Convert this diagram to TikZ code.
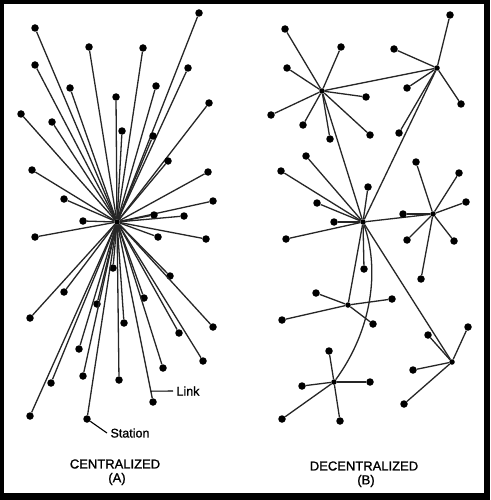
\documentclass[tikz,border=0pt]{standalone}
\usepackage{fontspec}
\setmainfont{Liberation Sans}
\newfontfamily\lettering[FakeBold=1.2]{Liberation Sans}
\usetikzlibrary{calc}

\tikzset{
    station/.style={circle, fill=black, inner sep=0pt, minimum size=7.5pt},
    hub/.style={circle, fill=black, inner sep=0pt, minimum size=5.5pt},
    link/.style={black!85, line width=1.3pt},
    leader/.style={black, line width=1.1pt},
    title/.style={font=\lettering\fontsize{13}{15}\selectfont},
    tag/.style={font=\lettering\fontsize{12.5}{14}\selectfont}
}

\begin{document}
\begin{tikzpicture}[x=1pt, y=-1pt]
        \useasboundingbox (0,0) rectangle (490,500);
        \fill[black] (0,0) rectangle (490,500);
        \fill[white] (4,4) rectangle (484,493);

        % centralized
        \node[hub] (hubA) at (117,222) {};
        \foreach \x/\y [count=\i] in {35/28, 89/47, 143/48, 199/13, 188/68, 35/65, 70/88,
                116/97, 156/86, 209/103, 21/114, 52/122, 122/131, 153/136, 168/161,
                32/170, 208/172, 64/199, 213/201, 83/221, 154/215, 184/216, 35/237,
                158/237, 206/239, 113/268, 170/276, 64/292, 97/304, 144/298, 30/318,
                124/323, 213/327, 179/333, 79/349, 203/361, 163/368, 83/376, 119/380,
                51/383, 153/402, 30/416, 87/419} {
            \node[station] (a\i) at (\x,\y) {};
            \draw[link] (hubA) -- (a\i);
        }

        \node[tag, anchor=west] (linklbl) at (173,391) {Link};
        \coordinate (linkpt) at ($(hubA)!0.94!(a41)$);
        \draw[leader] (linkpt) -- (linklbl.west);
        \node[tag, anchor=west] (stationlbl) at (107,433) {Station};
        \draw[leader] (a43) -- (stationlbl.west);

        \node[title] (titleA) at (115,464) {CENTRALIZED};
        \node[title] (subA) at (117,479) {(A)};

        % decentralized
        \node[hub] (h1) at (322,91) {};
        \node[hub] (h2) at (437,68) {};
        \node[hub] (h3) at (363,222) {};
        \node[hub] (h4) at (433,214) {};
        \node[hub] (h5) at (348,305) {};
        \node[hub] (h6) at (334,382) {};
        \node[hub] (h7) at (452,362) {};

        \draw[link] (h1) -- (h2);
        \draw[link] (h1) -- (h3);
        \draw[link] (h2) -- (h3);
        \draw[link] (h3) -- (h4);
        \draw[link] (h3) -- (h5);
        \draw[link] (h3) -- (h7);
        \draw[link] (h3) .. controls (380,270) and (372,330) .. (h6);

        \foreach \h/\x/\y [count=\i] in {h1/285/29, h1/341/47, h1/287/68, h1/366/97,
                h1/271/115, h1/303/125, h1/330/139, h1/370/135,
                h2/450/15, h2/394/49, h2/407/88, h2/461/104, h2/399/133,
                h3/306/156, h3/281/171, h3/368/187, h3/317/203, h3/334/222, h3/286/239, h3/364/269,
                h4/416/162, h4/459/173, h4/466/202, h4/403/214, h4/407/240, h4/454/241, h4/421/279,
                h5/316/293, h5/392/299, h5/282/320, h5/373/324,
                h6/329/351, h6/302/386, h6/370/382, h6/282/419, h6/340/421,
                h7/428/335, h7/468/327, h7/413/370, h7/404/404} {
            \node[station] (b\i) at (\x,\y) {};
            \draw[link] (\h) -- (b\i);
        }

        \node[title] (titleB) at (364,466) {DECENTRALIZED};
        \node[title] (subB) at (366,481) {(B)};
    \end{tikzpicture}
\end{document}
